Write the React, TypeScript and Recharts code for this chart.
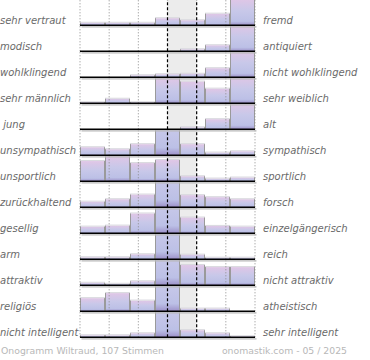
import { Bar, BarChart, ReferenceArea, ReferenceLine, XAxis, YAxis } from 'recharts';

const bins = ['1', '2', '3', '4', '5', '6', '7'];

const leftLabels = [
  'sehr vertraut', 'modisch', 'wohlklingend', 'sehr männlich', ' jung', 'unsympathisch', 'unsportlich',
  'zurückhaltend', 'gesellig', 'arm', 'attraktiv', 'religiös', 'nicht intelligent',
];
const rightLabels = [
  'fremd', 'antiquiert', 'nicht wohlklingend', 'sehr weiblich', 'alt', 'sympathisch', 'sportlich',
  'forsch', 'einzelgängerisch', 'reich', 'nicht attraktiv', 'atheistisch', 'sehr intelligent',
];

// bar heights per row, 25 = full row (taller ones get clipped)
const rowValues = [
  [2.5, 2.5, 2.5, 7, 5, 11.5, 26],
  [0, 0, 0, 0, 2, 6, 26],
  [0, 0, 2, 3, 3.5, 9, 26],
  [1, 4.5, 1, 25, 21.5, 14.5, 26],
  [0, 0, 0, 0, 2, 10, 26],
  [8, 6, 11, 50, 11, 2.7, 4],
  [20, 25, 18, 21, 5, 2.7, 3.7],
  [5.6, 8, 12.6, 50, 12, 10, 8],
  [6.6, 7.6, 19.6, 50, 15.6, 7.3, 6.6],
  [2, 2, 5, 50, 4.6, 1.6, 1.6],
  [2.5, 1.5, 4, 50, 20, 18, 18],
  [13, 18, 10.6, 50, 2.7, 2.7, 0],
  [2, 2, 4, 50, 7, 4, 1],
];

const ROW_H = 26;
const FONT = '"DejaVu Sans", sans-serif';

function StepBar(props: any) {
  const { x, y, width, height } = props;
  if (!height || height <= 0) return null;
  return (
    <g>
      <rect x={x} y={y} width={width} height={height} fill="url(#ono-grad)" />
      <line x1={x} y1={y - 0.5} x2={x + width} y2={y - 0.5} stroke="#d8d8de" strokeWidth={1} />
      <line x1={x + 0.5} y1={y} x2={x + 0.5} y2={y + height} stroke="#9a9a9a" strokeWidth={1} />
      <line x1={x + width - 0.5} y1={y} x2={x + width - 0.5} y2={y + height} stroke="#9a9a9a" strokeWidth={1} />
    </g>
  );
}

function Baseline(props: any) {
  const { x1, x2, y1 } = props;
  return (
    <g>
      <line x1={x1 + 1.5} x2={x2 + 1.5} y1={y1 + 1.6} y2={y1 + 1.6} stroke="#b8b8b8" strokeWidth={1.4} />
      <line x1={x1} x2={x2} y1={y1} y2={y1} stroke="#000" strokeWidth={1.4} />
    </g>
  );
}

function Row({ values, index }: { values: number[]; index: number }) {
  const data = bins.map((b, i) => ({ bin: b, v: values[i] }));
  return (
    <div style={{ position: 'absolute', left: 75, top: index * ROW_H, zIndex: 20 - index }}>
      <BarChart
        width={185}
        height={30}
        data={data}
        margin={{ top: 0, right: 5, bottom: 4.7, left: 5 }}
        barCategoryGap={0}
        barGap={0}
      >
        <XAxis xAxisId="c" dataKey="bin" hide />
        <XAxis xAxisId="g" type="number" domain={[0, 7]} hide />
        <YAxis hide domain={[0, 25]} allowDataOverflow />
        <ReferenceArea xAxisId="g" x1={3} x2={4} fill="#ececec" fillOpacity={1} stroke="none" ifOverflow="visible" />
        {[0, 1, 2, 5, 6, 7].map((g) => (
          <ReferenceLine key={g} xAxisId="g" x={g} stroke="#8a8a8a" strokeDasharray="1 2" strokeWidth={1} ifOverflow="visible" />
        ))}
        <Bar xAxisId="c" dataKey="v" shape={<StepBar />} isAnimationActive={false} />
        {[3, 4].map((g) => (
          <ReferenceLine key={g} xAxisId="g" x={g} stroke="#000" strokeDasharray="3 2" strokeWidth={1.2} ifOverflow="visible" />
        ))}
        <ReferenceLine xAxisId="g" y={0} ifOverflow="visible" shape={<Baseline />} />
      </BarChart>
    </div>
  );
}

const labelStyle: React.CSSProperties = {
  position: 'absolute',
  fontFamily: FONT,
  fontStyle: 'italic',
  fontSize: 10,
  color: '#6a6a6a',
  lineHeight: '26px',
  height: 26,
  whiteSpace: 'pre',
};

export default function App() {
  return (
    <div style={{ position: 'fixed', left: 0, top: 0, width: 370, height: 360, background: '#fff', overflow: 'hidden' }}>
      <svg width={0} height={0} style={{ position: 'absolute' }}>
        <defs>
          <linearGradient id="ono-grad" x1="0" y1="0" x2="0" y2="1">
            <stop offset="0%" stopColor="#e0c6e6" />
            <stop offset="45%" stopColor="#c8c8e9" />
            <stop offset="85%" stopColor="#bcc0e6" />
            <stop offset="100%" stopColor="#9c90c8" />
          </linearGradient>
        </defs>
      </svg>
      {rowValues.map((vals, i) => (
        <Row key={i} values={vals} index={i} />
      ))}
      {leftLabels.map((t, i) => (
        <div key={'l' + i} style={{ ...labelStyle, left: 0, top: i * ROW_H + 7.5 }}>
          {t}
        </div>
      ))}
      {rightLabels.map((t, i) => (
        <div key={'r' + i} style={{ ...labelStyle, left: 263, top: i * ROW_H + 7.5 }}>
          {t}
        </div>
      ))}
      <div style={{ position: 'absolute', left: 1, top: 344, fontFamily: FONT, fontSize: 9.3, color: '#b8b8b8', lineHeight: '14px' }}>
        Onogramm Wiltraud, 107 Stimmen
      </div>
      <div style={{ position: 'absolute', right: 23, top: 344, fontFamily: FONT, fontSize: 9.3, color: '#b8b8b8', lineHeight: '14px' }}>
        onomastik.com - 05 / 2025
      </div>
    </div>
  );
}
